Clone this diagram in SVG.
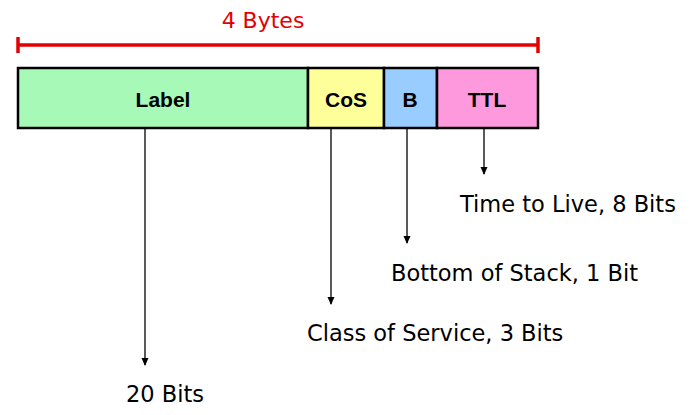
<svg xmlns="http://www.w3.org/2000/svg" width="693" height="415" viewBox="0 0 693 415">
<style>
.f{stroke:#000;stroke-width:2.5}
.lb{font-family:"Liberation Sans",Arial,sans-serif;font-weight:bold;font-size:21px;text-anchor:middle}
.t{font-family:"DejaVu Sans",Verdana,sans-serif;font-size:22.5px;fill:#000}
.c{stroke:#000;stroke-width:1.3;fill:none}
</style>
<defs>
<marker id="ah" markerWidth="8" markerHeight="8" refX="7" refY="4" orient="auto" markerUnits="userSpaceOnUse" viewBox="0 0 8 8">
<path d="M0,0.5 L8,4 L0,7.5 Z" fill="#000"/>
</marker>
</defs>
<rect width="693" height="415" fill="#fff"/>
<g id="bytes">
<text x="263" y="28" font-family="DejaVu Sans,Verdana,sans-serif" font-size="22" fill="#e30000" text-anchor="middle">4 Bytes</text>
<line x1="18" y1="45" x2="538" y2="45" stroke="#e30000" stroke-width="3.5"/>
<line x1="18" y1="37" x2="18" y2="53" stroke="#e30000" stroke-width="3.5"/>
<line x1="538" y1="37" x2="538" y2="53" stroke="#e30000" stroke-width="3.5"/>
</g>
<g id="label"><rect class="f" x="18" y="68" width="290" height="60" fill="#a6f9b6"/><text class="lb" x="163" y="107">Label</text></g>
<g id="cos"><rect class="f" x="308" y="68" width="76" height="60" fill="#ffff99"/><text class="lb" x="346" y="107">CoS</text></g>
<g id="b"><rect class="f" x="384" y="68" width="53" height="60" fill="#99ccff"/><text class="lb" x="410" y="107">B</text></g>
<g id="ttl"><rect class="f" x="437" y="68" width="101" height="60" fill="#ff99dd"/><text class="lb" x="487" y="107">TTL</text></g>
<g id="connectors">
<line class="c" x1="145" y1="129" x2="145" y2="365" marker-end="url(#ah)"/>
<line class="c" x1="331" y1="129" x2="331" y2="304" marker-end="url(#ah)"/>
<line class="c" x1="407" y1="129" x2="407" y2="243" marker-end="url(#ah)"/>
<line class="c" x1="484" y1="129" x2="484" y2="174" marker-end="url(#ah)"/>
</g>
<g id="desc">
<text class="t" x="460" y="212">Time to Live, 8 Bits</text>
<text class="t" x="391" y="281">Bottom of Stack, 1 Bit</text>
<text class="t" x="307" y="341">Class of Service, 3 Bits</text>
<text class="t" x="126" y="402">20 Bits</text>
</g>
</svg>
